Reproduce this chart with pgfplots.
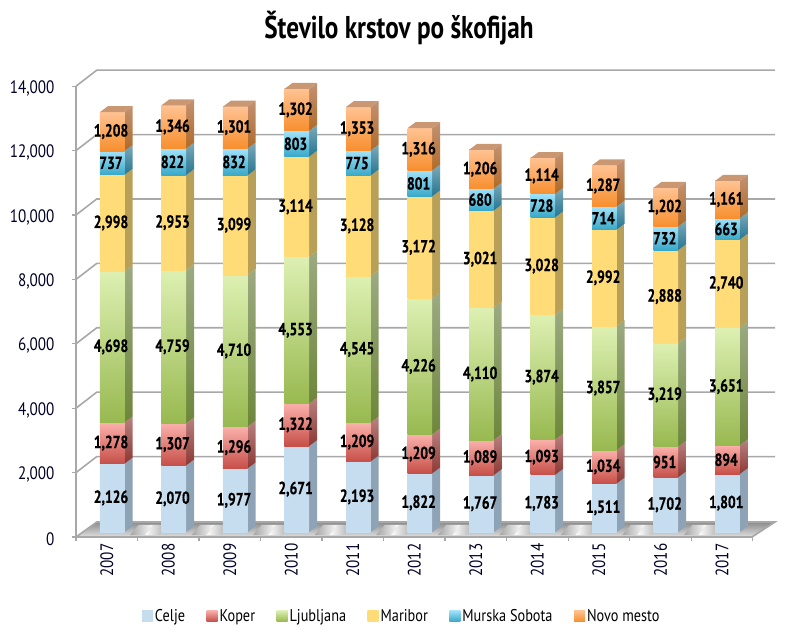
\documentclass[border=0pt]{standalone}
\usepackage{pgfplots}
\usepackage{pgfplotstable}
\usepackage{fontspec}
\pgfplotsset{compat=1.18}
\setmainfont{PT Sans}
\newfontfamily\narrow[FakeStretch=0.84]{PT Sans}
\newfontfamily\narrowb[FakeStretch=0.78,FakeBold=0.6]{PT Sans Bold}
\newfontfamily\titlef[FakeStretch=0.80]{PT Sans Bold}
\definecolor{gridc}{HTML}{A8A8A8}
\pgfplotstableread{
idx year celje koper ljubljana maribor murska novo
0 2007 2126 1278 4698 2998 737 1208
1 2008 2070 1307 4759 2953 822 1346
2 2009 1977 1296 4710 3099 832 1301
3 2010 2671 1322 4553 3114 803 1302
4 2011 2193 1209 4545 3128 775 1353
5 2012 1822 1209 4226 3172 801 1316
6 2013 1767 1089 4110 3021 680 1206
7 2014 1783 1093 3874 3028 728 1114
8 2015 1511 1034 3857 2992 714 1287
9 2016 1702 951 3219 2888 732 1202
10 2017 1801 894 3651 2740 663 1161
}\datatable
\pgfplotsset{
 fCelje/.style={top color=c1,bottom color=c1},
 fKoper/.style={top color=c2a,bottom color=c2b},
 fLj/.style={top color=c3a,bottom color=c3b},
 fMar/.style={top color=c4,bottom color=c4},
 fMur/.style={top color=c5a,bottom color=c5b},
 fNovo/.style={top color=c6a,bottom color=c6b},
 sCelje/.style={top color=s1,bottom color=s1},
 sKoper/.style={top color=s2a,bottom color=s2b},
 sLj/.style={top color=s3a,bottom color=s3b},
 sMar/.style={top color=s4,bottom color=s4},
 sMur/.style={top color=s5a,bottom color=s5b},
 sNovo/.style={top color=s6a,bottom color=s6b},
}
\definecolor{c1}{HTML}{C5DDEE}
\definecolor{c2a}{HTML}{FBB0AB}\definecolor{c2b}{HTML}{C64F48}
\definecolor{c3a}{HTML}{DDF0B2}\definecolor{c3b}{HTML}{98B950}
\definecolor{c4}{HTML}{FFDC78}
\definecolor{c5a}{HTML}{A2E2FA}\definecolor{c5b}{HTML}{38A8C8}
\definecolor{c6a}{HTML}{FFC292}\definecolor{c6b}{HTML}{F78F2E}
\definecolor{s1}{HTML}{8EA3B5}
\definecolor{s2a}{HTML}{B88280}\definecolor{s2b}{HTML}{8B3833}
\definecolor{s3a}{HTML}{9CAA82}\definecolor{s3b}{HTML}{6D863A}
\definecolor{s4}{HTML}{B8A058}
\definecolor{s5a}{HTML}{7CAABA}\definecolor{s5b}{HTML}{257590}
\definecolor{s6a}{HTML}{C29272}\definecolor{s6b}{HTML}{B06A28}
\definecolor{topf}{HTML}{C99772}
\definecolor{floorc}{HTML}{A4A4A4}
% light patch on the floor between two bars
\newcommand\Patch[1]{%
 \pgfmathsetmacro\pa{#1+0.38}\pgfmathsetmacro\pb{#1+0.62}\pgfmathsetmacro\pc{#1+0.86}%
 \pgfmathsetmacro\pd{#1+0.52}\pgfmathsetmacro\pe{#1+0.76}\pgfmathsetmacro\pf{#1+1.0}%
 \edef\temp{\noexpand\addplot[left color=floorc,right color=white,draw=none,forget plot,no markers] coordinates {(\pa,60) (\pb,60) (\pe,380) (\pd,380)} --cycle;}\temp
 \edef\temp{\noexpand\addplot[left color=white,right color=floorc,draw=none,forget plot,no markers] coordinates {(\pb,60) (\pc,60) (\pf,380) (\pe,380)} --cycle;}\temp
}
% front and side face of one stacked segment
\newcommand\Seg[4]{%
 \pgfplotstablegetelem{#1}{#2}\of\datatable
 \pgfmathsetmacro\yb{\cum+150}%
 \pgfmathsetmacro\yt{\cum+150+\pgfplotsretval}%
 \pgfmathsetmacro\ybb{\yb+186}%
 \pgfmathsetmacro\ytt{\yt+186}%
 \pgfmathsetmacro\xz{#1+0.089-0.2}%
 \pgfmathsetmacro\xa{#1+0.089+0.2}%
 \pgfmathsetmacro\xb{\xa+0.13}%
 \edef\temp{\noexpand\addplot[#3,draw=none,forget plot,no markers] coordinates {(\xa,\yb) (\xb,\ybb) (\xb,\ytt) (\xa,\yt)} --cycle;}%
 \temp
 \edef\temp{\noexpand\addplot[#4,draw=none,forget plot,no markers] coordinates {(\xz,\yb) (\xa,\yb) (\xa,\yt) (\xz,\yt)} --cycle;}%
 \temp
 \pgfmathsetmacro\cum{\yt-150}%
}
\newcommand\Bar[1]{%
 \def\cum{0}%
 \Seg{#1}{celje}{sCelje}{fCelje}\Seg{#1}{koper}{sKoper}{fKoper}\Seg{#1}{ljubljana}{sLj}{fLj}%
 \Seg{#1}{maribor}{sMar}{fMar}\Seg{#1}{murska}{sMur}{fMur}\Seg{#1}{novo}{sNovo}{fNovo}%
 \pgfmathsetmacro\xa{#1+0.089-0.2}\pgfmathsetmacro\xb{#1+0.089+0.2}%
 \pgfmathsetmacro\xc{\xb+0.13}\pgfmathsetmacro\xd{\xa+0.13}%
 \pgfmathsetmacro\ya{\cum+150}\pgfmathsetmacro\yc{\cum+150+186}%
 \edef\temp{\noexpand\addplot[fill=topf,draw=none,forget plot,no markers] coordinates {(\xa,\ya) (\xb,\ya) (\xc,\yc) (\xd,\yc)} --cycle;}%
 \temp
}
% value label in the middle of a front face
\newcommand\Lab[2]{%
 \pgfplotstablegetelem{#1}{#2}\of\datatable
 \let\vv\pgfplotsretval
 \pgfmathsetmacro\ym{\cum+\vv/2+26}%
 \pgfmathsetmacro\cum{\cum+\vv}%
 \pgfmathsetmacro\xm{#1-0.02}%
 \edef\temp{\noexpand\node[font=\noexpand\narrowb\noexpand\fontsize{17.5}{19}\noexpand\selectfont,text=black,inner sep=0pt] at (axis cs:\xm,\ym) {\noexpand\pgfmathprintnumber[assume math mode=true,1000 sep={,}]{\vv}};}%
 \temp
}
\newcommand\Labs[1]{%
 \def\cum{0}%
 \Lab{#1}{celje}\Lab{#1}{koper}\Lab{#1}{ljubljana}\Lab{#1}{maribor}\Lab{#1}{murska}\Lab{#1}{novo}%
}
\begin{document}
\begin{tikzpicture}[x=1pt,y=1pt]
\useasboundingbox (0,0) rectangle (795,642);
\node[font=\titlef\fontsize{31.5}{34}\selectfont,text=black] at (399,614) {Število krstov po škofijah};
\begin{axis}[
 at={(76pt,105pt)},anchor=south west,scale only axis,
 width=699pt,height=467pt,
 xmin=-0.5,xmax=10.862,ymin=0,ymax=14503,clip=false,
 axis x line*=bottom,axis y line*=left,
 axis line style={draw=none},
 xtick={0,...,10},
 xticklabels={2007,2008,2009,2010,2011,2012,2013,2014,2015,2016,2017},
 minor xtick={-0.5,0.5,1.5,2.5,3.5,4.5,5.5,6.5,7.5,8.5,9.5,10.5},
 major x tick style={draw=none},
 minor x tick style={draw=gridc,line width=1.3pt},
 minor tick length=4pt,
 tick align=outside,
 ytick={0,2000,...,14000},
 y tick style={draw=gridc,line width=1.3pt},
 major tick length=4pt,
 scaled y ticks=false,
 /pgf/number format/.cd,1000 sep={,},assume math mode=true,/pgfplots/.cd,
 tick label style={font=\narrow\fontsize{18}{19}\selectfont,text=black!85!blue},
 yticklabel style={xshift=-14pt,yshift=-2pt},
 xticklabel style={rotate=90,anchor=east,xshift=1pt},
]
% floor
\addplot[top color=floorc!85!black,bottom color=floorc!35!white,draw=none,forget plot,no markers] coordinates {(-0.5,0) (10.488,0) (10.862,466) (-0.163,466)} --cycle;
\pgfplotsforeachungrouped \r in {0,...,9}{\Patch{\r}}
\addplot[draw=gridc,line width=1.6pt,no markers,forget plot] coordinates {(-0.5,0) (10.488,0) (10.862,466) (-0.163,466) (-0.5,0)};
% walls
\addplot[draw=gridc,line width=1.6pt,no markers,forget plot] coordinates {(-0.5,0) (-0.5,14000)};
\addplot[draw=gridc,line width=1.6pt,no markers,forget plot] coordinates {(-0.5,2000) (-0.163,2497) (10.862,2497)};
\addplot[draw=gridc,line width=1.6pt,no markers,forget plot] coordinates {(-0.5,4000) (-0.163,4497) (10.862,4497)};
\addplot[draw=gridc,line width=1.6pt,no markers,forget plot] coordinates {(-0.5,6000) (-0.163,6497) (10.862,6497)};
\addplot[draw=gridc,line width=1.6pt,no markers,forget plot] coordinates {(-0.5,8000) (-0.163,8497) (10.862,8497)};
\addplot[draw=gridc,line width=1.6pt,no markers,forget plot] coordinates {(-0.5,10000) (-0.163,10497) (10.862,10497)};
\addplot[draw=gridc,line width=1.6pt,no markers,forget plot] coordinates {(-0.5,12000) (-0.163,12497) (10.862,12497)};
\addplot[draw=gridc,line width=1.6pt,no markers,forget plot] coordinates {(-0.5,14000) (-0.163,14497) (10.862,14497)};
\pgfplotsforeachungrouped \r in {0,...,10}{\Bar{\r}}
\end{axis}
\begin{axis}[
 at={(76pt,105pt)},anchor=south west,scale only axis,
 width=699pt,height=467pt,
 xmin=-0.589,xmax=10.773,ymin=-124,ymax=14379,clip=false,
 hide axis,
 legend columns=6,
 legend style={at={(0.466,-0.169)},anchor=center,draw=none,fill=none,
  font=\narrow\fontsize{17}{19}\selectfont,
  /tikz/every even column/.append style={column sep=19.5pt}},
 legend image code/.code={\path[#1,draw=none] (0pt,-5.5pt) rectangle (11pt,5.5pt);},
]
\addlegendimage{fCelje}\addlegendentry{Celje}
\addlegendimage{fKoper}\addlegendentry{Koper}
\addlegendimage{fLj}\addlegendentry{Ljubljana}
\addlegendimage{fMar}\addlegendentry{Maribor}
\addlegendimage{fMur}\addlegendentry{Murska Sobota}
\addlegendimage{fNovo}\addlegendentry{Novo mesto}
\pgfplotsforeachungrouped \r in {0,...,10}{\Labs{\r}}
\end{axis}
\end{tikzpicture}
\end{document}
